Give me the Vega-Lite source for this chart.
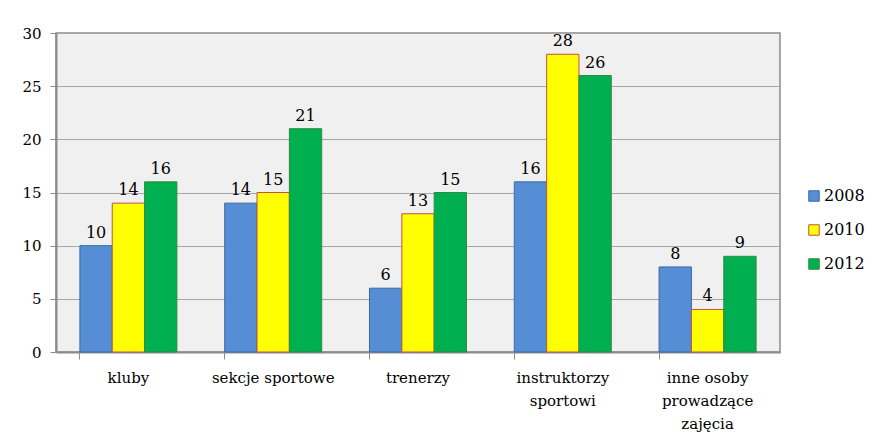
{
  "$schema": "https://vega.github.io/schema/vega-lite/v6.json",
  "width": 724,
  "height": 319,
  "autosize": {"type": "none"},
  "padding": {"left": 56, "top": 33, "right": 91, "bottom": 89},
  "background": "white",
  "config": {
    "font": "DejaVu Serif",
    "axis": {"labelFont": "DejaVu Serif"},
    "legend": {"labelFont": "DejaVu Serif"},
    "view": {"fill": "#f0f0f0", "stroke": "#8c8c8c", "strokeWidth": 1.5}
  },
  "data": {
    "values": [
      {"kategoria": "kluby", "rok": "2008", "wartosc": 10},
      {"kategoria": "kluby", "rok": "2010", "wartosc": 14},
      {"kategoria": "kluby", "rok": "2012", "wartosc": 16},
      {"kategoria": "sekcje sportowe", "rok": "2008", "wartosc": 14},
      {"kategoria": "sekcje sportowe", "rok": "2010", "wartosc": 15},
      {"kategoria": "sekcje sportowe", "rok": "2012", "wartosc": 21},
      {"kategoria": "trenerzy", "rok": "2008", "wartosc": 6},
      {"kategoria": "trenerzy", "rok": "2010", "wartosc": 13},
      {"kategoria": "trenerzy", "rok": "2012", "wartosc": 15},
      {"kategoria": "instruktorzy sportowi", "rok": "2008", "wartosc": 16},
      {"kategoria": "instruktorzy sportowi", "rok": "2010", "wartosc": 28},
      {"kategoria": "instruktorzy sportowi", "rok": "2012", "wartosc": 26},
      {"kategoria": "inne osoby prowadzące zajęcia", "rok": "2008", "wartosc": 8},
      {"kategoria": "inne osoby prowadzące zajęcia", "rok": "2010", "wartosc": 4},
      {"kategoria": "inne osoby prowadzące zajęcia", "rok": "2012", "wartosc": 9}
    ]
  },
  "encoding": {
    "x": {
      "field": "kategoria",
      "type": "nominal",
      "sort": null,
      "scale": {"paddingInner": 0.33, "paddingOuter": 0.165},
      "axis": {
        "title": null,
        "labelAngle": 0,
        "labelFontSize": 15,
        "labelColor": "black",
        "labelPadding": 11,
        "labelLineHeight": 23,
        "labelBaseline": "top",
        "labelExpr": "datum.label == 'instruktorzy sportowi' ? ['instruktorzy', 'sportowi'] : datum.label == 'inne osoby prowadzące zajęcia' ? ['inne osoby', 'prowadzące', 'zajęcia'] : datum.label",
        "bandPosition": 0,
        "tickColor": "#8c8c8c",
        "tickSize": 7,
        "domainColor": "#8c8c8c",
        "domainWidth": 2,
        "grid": false
      }
    },
    "xOffset": {"field": "rok", "type": "nominal", "scale": {"paddingInner": 0, "paddingOuter": 0}},
    "y": {
      "field": "wartosc",
      "type": "quantitative",
      "scale": {"domain": [0, 30]},
      "axis": {
        "title": null,
        "values": [0, 5, 10, 15, 20, 25, 30],
        "labelFontSize": 15,
        "labelColor": "black",
        "labelPadding": 9,
        "tickColor": "#8c8c8c",
        "tickSize": 6,
        "domainColor": "#8c8c8c",
        "domainWidth": 2,
        "gridColor": "#a6a6a6",
        "gridWidth": 1
      }
    }
  },
  "layer": [
    {
      "mark": {"type": "bar", "strokeWidth": 1},
      "encoding": {
        "fill": {
          "field": "rok",
          "type": "nominal",
          "scale": {"domain": ["2008", "2010", "2012"], "range": ["#558ed5", "#ffff00", "#00b050"]},
          "legend": {
            "title": null,
            "orient": "none",
            "legendX": 750,
            "legendY": 155,
            "symbolType": "square",
            "symbolSize": 110,
            "symbolStrokeWidth": 1,
            "labelFontSize": 16,
            "labelColor": "black",
            "rowPadding": 18,
            "labelOffset": 2
          }
        },
        "stroke": {
          "field": "rok",
          "type": "nominal",
          "scale": {"domain": ["2008", "2010", "2012"], "range": ["#3f67a3", "#c0504d", "#2e8b3e"]},
          "legend": {
            "title": null,
            "orient": "none",
            "legendX": 750,
            "legendY": 155,
            "symbolType": "square",
            "symbolSize": 110,
            "symbolStrokeWidth": 1,
            "labelFontSize": 16,
            "labelColor": "black",
            "rowPadding": 18,
            "labelOffset": 2
          }
        }
      }
    },
    {
      "mark": {"type": "text", "baseline": "bottom", "dy": -5, "fontSize": 16, "color": "black", "font": "DejaVu Serif"},
      "encoding": {"text": {"field": "wartosc", "type": "quantitative"}}
    }
  ]
}
